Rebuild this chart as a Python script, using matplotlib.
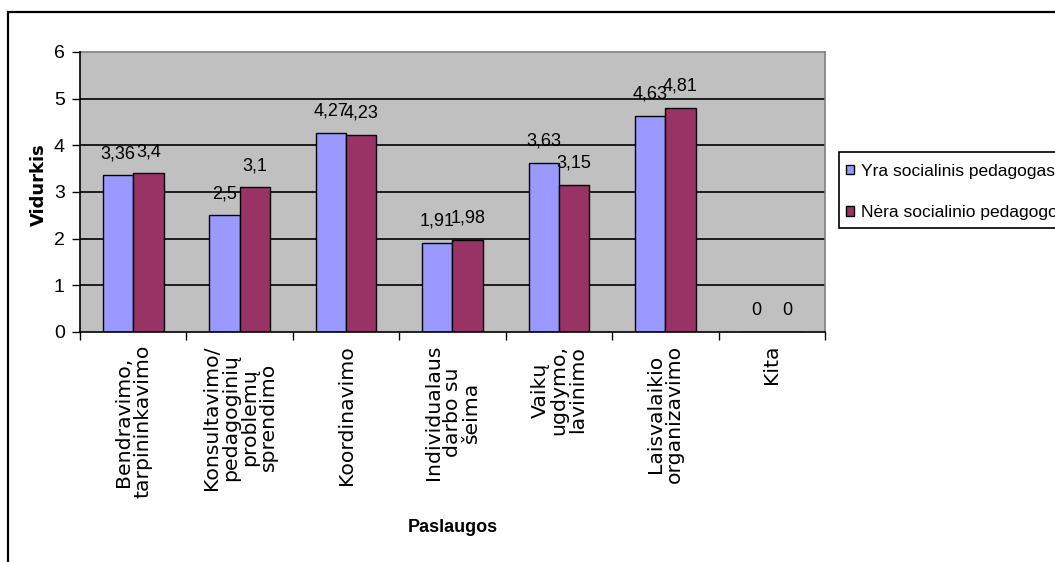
import matplotlib
matplotlib.use("Agg")
import matplotlib.pyplot as plt
from matplotlib import font_manager as fm
from matplotlib.patches import Patch, Rectangle
import matplotlib.transforms as mtransforms
import numpy as np

categories = [
    "Bendravimo,\ntarpininkavimo",
    "Konsultavimo/\npedagoginių\nproblemų\nsprendimo",
    "Koordinavimo",
    "Individualaus\ndarbo su\nšeima",
    "Vaikų\nugdymo,\nlavinimo",
    "Laisvalaikio\norganizavimo",
    "Kita",
]
yra = [3.36, 2.5, 4.27, 1.91, 3.63, 4.63, 0]
nera = [3.4, 3.1, 4.23, 1.98, 3.15, 4.81, 0]
series_names = ["Yra socialinis pedagogas", "Nėra socialinio pedagogo"]
yticks = [0, 1, 2, 3, 4, 5, 6]

names = {f.name for f in fm.fontManager.ttflist}
NARROW = "Liberation Sans Narrow" if "Liberation Sans Narrow" in names else "Liberation Sans"
is_narrow = NARROW == "Liberation Sans Narrow"
nsize = 15 if is_narrow else 14      # tick labels
dsize = 15 if is_narrow else 13      # data labels
lsize = 15 if is_narrow else 12.5    # legend
tsize = 15 if is_narrow else 13      # x title

W, H = 1055, 562
fig = plt.figure(figsize=(W / 100, H / 100), dpi=100)
fig.patch.set_facecolor("white")

x0, x1, ytop, ybot = 80, 825, 52, 332
ax = fig.add_axes([x0 / W, (H - ybot) / H, (x1 - x0) / W, (ybot - ytop) / H])
ax.set_facecolor("#C0C0C0")

c_blue = "#9999FF"
c_maroon = "#993366"
n = len(categories)
x = np.arange(n)
bw = 1 / 3.5

b1 = ax.bar(x - bw / 2, yra, bw, color=c_blue, edgecolor="black", linewidth=1.0, zorder=3)
b2 = ax.bar(x + bw / 2, nera, bw, color=c_maroon, edgecolor="black", linewidth=1.0, zorder=3)

def fmt(v):
    return ("%g" % v).replace(".", ",")

for bars, vals in ((b1, yra), (b2, nera)):
    for rect, v in zip(bars, vals):
        ax.annotate(fmt(v), (rect.get_x() + rect.get_width() / 2, v),
                    xytext=(0, 12.3), textcoords="offset points",
                    ha="center", va="baseline", fontsize=dsize,
                    family=NARROW, color="black", zorder=5, annotation_clip=False)

ax.set_xlim(-0.5, n - 0.5)
ax.set_ylim(0, 6)
ax.set_yticks(yticks)
ax.set_yticklabels([str(t) for t in yticks], family=NARROW, fontsize=nsize)
ax.set_xticks(np.arange(-0.5, n, 1.0))
ax.set_xticklabels([])
ax.tick_params(axis="both", direction="out", length=6, width=1, color="black", pad=5)

for yv in yticks[1:-1]:
    ax.axhline(yv, color="black", linewidth=1.2, zorder=1)

for s in ("top", "right"):
    ax.spines[s].set_color("#808080")
    ax.spines[s].set_linewidth(1.2)
for s in ("left", "bottom"):
    ax.spines[s].set_color("black")
    ax.spines[s].set_linewidth(1.2)
    ax.spines[s].set_zorder(4)

trans = mtransforms.blended_transform_factory(ax.transData, ax.transAxes)
off = mtransforms.offset_copy(trans, fig=fig, x=0, y=-13, units="dots")
for i, lab in enumerate(categories):
    ax.text(i, 0, lab, transform=off, rotation=90, ha="center", va="top",
            multialignment="center", fontsize=14.7, family="DejaVu Sans",
            linespacing=1.0, color="black")

fig.text(453 / W, 1 - 528 / H, "Paslaugos", ha="center", va="center",
         fontsize=tsize, family=NARROW, fontweight="bold")
fig.text(39 / W, 1 - 185 / H, "Vidurkis", ha="center", va="center", rotation=90,
         fontsize=13, family="DejaVu Sans", fontweight="bold")

# legend frame (drawn as in the reference, running past the right edge)
fig.patches.append(Rectangle((839 / W, 1 - 228 / H), 0.3, 76 / H,
                             transform=fig.transFigure, facecolor="white",
                             edgecolor="black", linewidth=1.2, zorder=1))

handles = [Patch(facecolor=c_blue, edgecolor="black", linewidth=1.0),
           Patch(facecolor=c_maroon, edgecolor="black", linewidth=1.0)]
leg = fig.legend(handles, series_names, loc="upper left",
                 bbox_to_anchor=(846 / W, 1 - 164 / H),
                 prop={"family": NARROW, "size": lsize},
                 frameon=False,
                 handlelength=0.45, handleheight=0.45, handletextpad=0.4,
                 borderpad=0, labelspacing=1.5, borderaxespad=0)
leg.set_zorder(2)

fig.patches.append(Rectangle((8 / W, -0.2), 1.5, (H - 12) / H + 0.2,
                             transform=fig.transFigure, fill=False,
                             edgecolor="black", linewidth=1.6))

fig.savefig("out.png", dpi=100)
